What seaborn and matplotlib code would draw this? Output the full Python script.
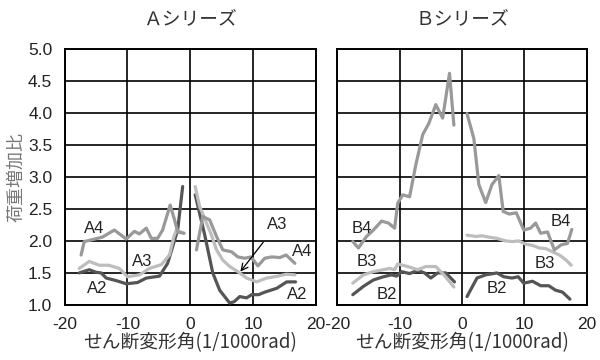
import matplotlib
matplotlib.use("Agg")
import matplotlib.pyplot as plt
import pandas as pd
import seaborn as sns

# 各シリーズのデータ（負側・正側は別々の線）
a2_neg_x = [-17.7, -16.1, -15.0, -14.2, -13.4, -11.8, -10.2, -8.4, -7.0, -4.9, -3.6, -2.0, -1.2]
a2_neg_y = [1.50, 1.55, 1.51, 1.50, 1.42, 1.38, 1.33, 1.35, 1.42, 1.45, 1.65, 2.17, 2.85]
a2_pos_x = [0.8, 2.3, 3.6, 4.7, 6.3, 7.0, 7.9, 9.0, 9.8, 10.9, 11.9, 13.8, 15.4, 16.8]
a2_pos_y = [2.72, 2.10, 1.50, 1.23, 1.03, 1.05, 1.13, 1.11, 1.16, 1.16, 1.20, 1.26, 1.36, 1.36]

a3_neg_x = [-17.7, -16.1, -14.5, -13.0, -11.3, -10.0, -8.1, -6.5, -4.6, -3.3, -2.6, -2.2, -1.0]
a3_neg_y = [1.57, 1.68, 1.62, 1.62, 1.57, 1.44, 1.47, 1.57, 1.63, 1.78, 2.07, 2.17, 2.12]
a3_pos_x = [0.8, 1.5, 2.3, 3.4, 4.2, 5.2, 6.3, 7.6, 9.0, 10.6, 12.2, 14.0, 15.3, 16.7]
a3_pos_y = [2.85, 2.54, 2.35, 2.09, 1.86, 1.70, 1.60, 1.52, 1.42, 1.36, 1.42, 1.45, 1.48, 1.47]

a4_neg_x = [-17.4, -16.9, -15.6, -14.0, -12.1, -10.2, -8.9, -8.1, -7.0, -6.2, -5.2, -4.4, -3.2, -2.5, -2.0, -1.0]
a4_neg_y = [1.78, 1.99, 2.02, 2.06, 2.17, 2.03, 2.15, 2.11, 2.20, 2.04, 2.04, 2.17, 2.56, 2.33, 2.14, 2.12]
a4_pos_x = [1.0, 2.0, 3.1, 4.2, 5.2, 6.6, 7.6, 8.7, 9.7, 10.8, 11.9, 13.0, 14.3, 15.3, 16.7]
a4_pos_y = [1.86, 2.38, 2.33, 2.07, 1.86, 1.83, 1.75, 1.73, 1.75, 1.61, 1.73, 1.75, 1.74, 1.78, 1.65]

b2_neg_x = [-17.5, -15.8, -14.2, -12.6, -11.3, -10.5, -9.7, -8.4, -7.1, -6.0, -5.0, -3.9, -2.6, -1.2]
b2_neg_y = [1.16, 1.29, 1.39, 1.44, 1.47, 1.45, 1.52, 1.49, 1.54, 1.50, 1.42, 1.50, 1.50, 1.36]
b2_pos_x = [0.8, 2.4, 3.8, 5.6, 6.7, 8.0, 9.0, 9.9, 11.3, 12.6, 13.9, 15.0, 16.1, 17.3]
b2_pos_y = [1.13, 1.42, 1.47, 1.50, 1.44, 1.42, 1.44, 1.34, 1.37, 1.30, 1.30, 1.23, 1.20, 1.09]

b3_neg_x = [-17.5, -15.8, -14.2, -12.6, -11.6, -10.8, -10.3, -8.7, -7.1, -5.8, -4.2, -2.9, -1.3]
b3_neg_y = [1.34, 1.47, 1.52, 1.55, 1.57, 1.55, 1.64, 1.60, 1.55, 1.60, 1.60, 1.47, 1.28]
b3_pos_x = [0.8, 2.2, 3.2, 4.3, 5.6, 7.0, 8.1, 9.1, 10.2, 11.3, 12.4, 13.4, 14.5, 15.6, 16.7, 17.5]
b3_pos_y = [2.09, 2.07, 2.08, 2.06, 2.04, 2.00, 1.99, 2.00, 1.95, 1.93, 1.89, 1.88, 1.83, 1.78, 1.70, 1.62]

b4_neg_x = [-17.5, -16.6, -15.3, -14.2, -12.9, -11.8, -10.8, -10.3, -9.5, -8.4, -7.4, -6.3, -5.3, -4.2, -3.1, -2.0, -1.3]
b4_neg_y = [1.99, 1.89, 2.07, 2.17, 2.31, 2.28, 2.20, 2.59, 2.72, 2.69, 3.19, 3.66, 3.84, 4.13, 3.92, 4.62, 3.81]
b4_pos_x = [0.8, 1.9, 2.7, 3.8, 4.8, 5.9, 6.6, 7.6, 8.7, 9.9, 11.0, 11.8, 12.6, 13.7, 14.8, 15.9, 16.9, 17.6]
b4_pos_y = [3.99, 3.60, 2.88, 2.60, 2.88, 3.02, 2.46, 2.42, 2.44, 2.17, 2.20, 2.28, 2.12, 2.14, 1.86, 1.94, 1.96, 2.18]

x_ticks = [-20, -10, 0, 10, 20]
y_ticks = [1.0, 1.5, 2.0, 2.5, 3.0, 3.5, 4.0, 4.5, 5.0]

colors = {"2": "#555555", "3": "#bdbdbd", "4": "#999999"}


def make_df(segments):
    rows = []
    for name, side, xs, ys in segments:
        for x, y in zip(xs, ys):
            rows.append({"x": x, "y": y, "no": name, "side": side})
    return pd.DataFrame(rows)


df_a = make_df([
    ("2", "neg", a2_neg_x, a2_neg_y), ("2", "pos", a2_pos_x, a2_pos_y),
    ("3", "neg", a3_neg_x, a3_neg_y), ("3", "pos", a3_pos_x, a3_pos_y),
    ("4", "neg", a4_neg_x, a4_neg_y), ("4", "pos", a4_pos_x, a4_pos_y),
])
df_b = make_df([
    ("2", "neg", b2_neg_x, b2_neg_y), ("2", "pos", b2_pos_x, b2_pos_y),
    ("3", "neg", b3_neg_x, b3_neg_y), ("3", "pos", b3_pos_x, b3_pos_y),
    ("4", "neg", b4_neg_x, b4_neg_y), ("4", "pos", b4_pos_x, b4_pos_y),
])

sns.set_style("white")
plt.rcParams["font.family"] = ["Liberation Sans", "Noto Sans CJK JP"]
jp = ["Noto Sans CJK JP", "DejaVu Sans"]

fig = plt.figure(figsize=(6, 3.6), dpi=100)
ax_a = fig.add_axes([0.108, 0.153, 0.418, 0.711])
ax_b = fig.add_axes([0.562, 0.153, 0.416, 0.711])

for ax, df, title in [(ax_a, df_a, "Ａシリーズ"), (ax_b, df_b, "Ｂシリーズ")]:
    sns.lineplot(data=df, x="x", y="y", hue="no", units="side", estimator=None,
                 sort=False, palette=colors, linewidth=2.3, legend=False, ax=ax, zorder=3)
    ax.set_xlim(-20, 20)
    ax.set_ylim(1.0, 5.0)
    ax.set_xticks(x_ticks)
    ax.set_yticks(y_ticks)
    ax.grid(True, color="black", linewidth=1.2)
    for sp in ax.spines.values():
        sp.set_visible(True)
        sp.set_color("black")
        sp.set_linewidth(1.4)
    ax.tick_params(length=0, labelsize=12.5, pad=9, colors="#222222")
    ax.set_title(title, family=jp, fontsize=13.5, color="#333333", pad=18)
    ax.set_xlabel("せん断変形角(1/1000rad)", family=jp, fontsize=13.5, color="#333333", labelpad=0)
    ax.set_ylabel("")

ax_a.set_yticklabels([f"{v:.1f}" for v in y_ticks])
ax_b.set_yticklabels([])
# 20 と -20 が接して "20-20" と並ぶ部分は一つの文字列で描く
ax_a.set_xticklabels([str(v) for v in x_ticks[:-1]] + [""])
ax_b.set_xticklabels([""] + [str(v) for v in x_ticks[1:]])
ax_b.annotate("20-20", xy=(-20, 0), xycoords=("data", "axes fraction"),
              xytext=(-6.5, -9), textcoords="offset points", ha="center", va="top",
              fontsize=12.5, color="#222222", annotation_clip=False)
ax_a.set_ylabel("荷重増加比", family=jp, fontsize=13, color="#777777", labelpad=2)

lab = dict(fontsize=12, color="#222222", ha="center", va="center", zorder=4)
ax_a.text(-15.3, 2.2, "A4", **lab)
ax_a.text(-7.6, 1.68, "A3", **lab)
ax_a.text(-14.8, 1.25, "A2", **lab)
ax_a.text(17.8, 1.83, "A4", **lab)
ax_a.text(17.0, 1.16, "A2", **lab)
ax_a.annotate("A3", xy=(8.0, 1.52), xytext=(13.8, 2.25), fontsize=12, color="#222222",
              ha="center", va="center", zorder=4,
              arrowprops=dict(arrowstyle="->", color="black", lw=0.9, shrinkA=6, shrinkB=0))

ax_b.text(-16.1, 2.2, "B4", **lab)
ax_b.text(-15.3, 1.68, "B3", **lab)
ax_b.text(-12.1, 1.16, "B2", **lab)
ax_b.text(15.9, 2.3, "B4", **lab)
ax_b.text(13.2, 1.65, "B3", **lab)
ax_b.text(5.6, 1.26, "B2", **lab)

fig.savefig("out.png", dpi=100)
